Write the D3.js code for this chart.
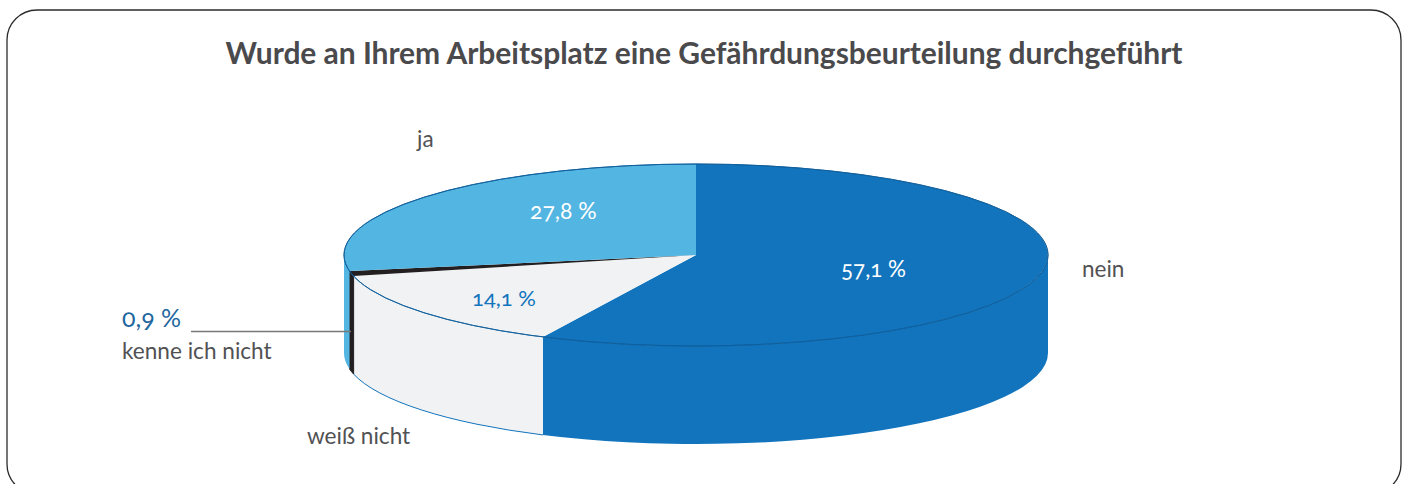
<!DOCTYPE html>
<html>
<head>
<meta charset="utf-8">
<script src="https://cdn.jsdelivr.net/npm/d3@7"></script>
<style>
  html, body { margin: 0; padding: 0; background: #fff; }
  svg { display: block; }
  text { font-family: "Lato", "Open Sans", sans-serif; font-variant-numeric: oldstyle-nums; }
</style>
</head>
<body>
<svg id="chart" width="1402" height="484"></svg>
<script>
var titleText = "Wurde an Ihrem Arbeitsplatz eine Gefährdungsbeurteilung durchgeführt";
var categories = ["nein", "weiß nicht", "kenne ich nicht", "ja"];
var values = [57.1, 14.1, 0.9, 27.8];
var valueLabels = ["57,1 %", "14,1 %", "0,9 %", "27,8 %"];
var sliceColors = ["#1174bd", "#f1f2f4", "#231f20", "#53b5e1"];

var cx = 696, cy = 255, rx = 352, ry = 91, depth = 98;
var svg = d3.select("#chart");

// outer frame, runs off the bottom of the page
svg.append("rect")
   .attr("x", 7).attr("y", 10)
   .attr("width", 1394).attr("height", 484)
   .attr("rx", 30).attr("ry", 30)
   .attr("fill", "#fff")
   .attr("stroke", "#2b2b2d")
   .attr("stroke-width", 1.3);

svg.append("text")
   .attr("x", 704).attr("y", 64)
   .attr("text-anchor", "middle")
   .attr("font-size", 30)
   .attr("font-weight", 700)
   .attr("fill", "#4a4a4d")
   .attr("textLength", 957)
   .text(titleText);

var pie = d3.pie().sort(null).value(function(d) { return d; });
var slices = pie(values);

function rimPoint(angle, dy) {
  return [cx + rx * Math.sin(angle), cy - ry * Math.cos(angle) + dy];
}

// side wall of a slice, only the front half of the cylinder shows
function wallPath(d) {
  var a0 = Math.max(d.startAngle, Math.PI / 2),
      a1 = Math.min(d.endAngle, Math.PI * 1.5);
  if (a1 <= a0) { return null; }
  var p0 = rimPoint(a0, 0), p1 = rimPoint(a1, 0),
      q1 = rimPoint(a1, depth), q0 = rimPoint(a0, depth);
  return "M" + p0 + "A" + rx + "," + ry + " 0 0 1 " + p1 +
         "L" + q1 + "A" + rx + "," + ry + " 0 0 0 " + q0 + "Z";
}

var walls = svg.append("g");
slices.forEach(function(d, i) {
  var w = wallPath(d);
  if (w) {
    walls.append("path")
         .attr("d", w)
         .attr("fill", sliceColors[i])
         .attr("stroke", i === 2 ? sliceColors[i] : "none")
         .attr("stroke-width", 1);
  }
});

// thin blue line under the pale slice
var lowA0 = slices[1].startAngle, lowA1 = slices[1].endAngle;
svg.append("path")
   .attr("d", "M" + rimPoint(lowA0, depth) + "A" + rx + "," + ry + " 0 0 1 " + rimPoint(lowA1, depth))
   .attr("fill", "none")
   .attr("stroke", "#1174bd")
   .attr("stroke-width", 1);

// top face: unit arcs squashed into the ellipse
var arc = d3.arc().innerRadius(0).outerRadius(1);
var topFace = svg.append("g").attr("transform", "translate(" + cx + "," + cy + ") scale(" + rx + "," + ry + ")");
topFace.selectAll("path.slice")
   .data(slices)
   .enter()
   .append("path")
   .attr("class", "slice")
   .attr("d", arc)
   .attr("fill", function(d, i) { return sliceColors[i]; });

topFace.append("path")
   .attr("d", d3.arc().innerRadius(1).outerRadius(1).startAngle(0).endAngle(Math.PI * 2)())
   .attr("fill", "none")
   .attr("stroke", "#0f5f9c")
   .attr("stroke-width", 0.9)
   .attr("vector-effect", "non-scaling-stroke");

// leader line for the small slice
svg.append("line")
   .attr("x1", 191).attr("y1", 331.5)
   .attr("x2", 351).attr("y2", 331.5)
   .attr("stroke", "#77787b")
   .attr("stroke-width", 1.3);

function label(txt, x, y, color, size) {
  svg.append("text")
     .attr("x", x).attr("y", y)
     .attr("font-size", size)
     .attr("fill", color)
     .text(txt);
}

var grey = "#515154";
label(categories[3], 417, 147, grey, 22.5);
label(categories[0], 1082, 277, grey, 22.5);
label(categories[2], 122, 359, grey, 22.6);
label(categories[1], 307, 444, grey, 22.6);
label(valueLabels[3], 530, 219, "#ffffff", 23);
label(valueLabels[0], 841, 277, "#ffffff", 22.4);
label(valueLabels[1], 472, 306, "#1174bd", 22);
label(valueLabels[2], 122, 327, "#1f679f", 25);
</script>
</body>
</html>
